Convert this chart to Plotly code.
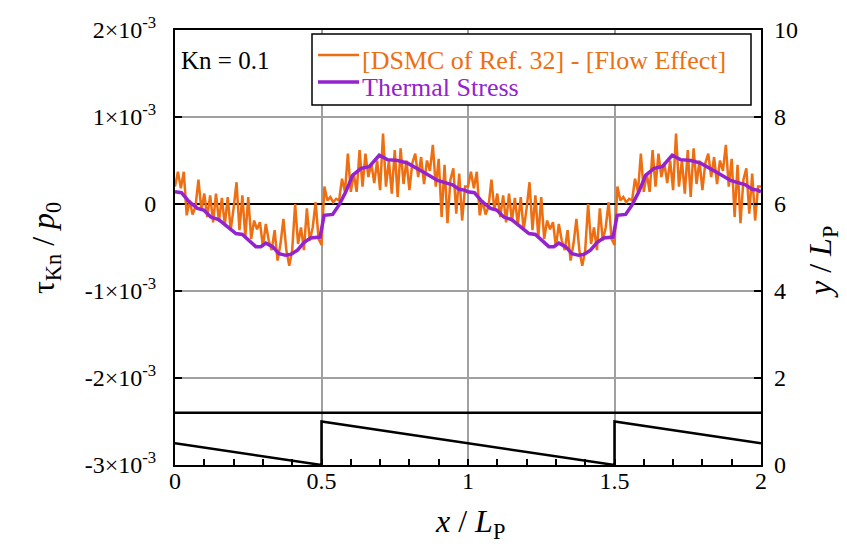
import plotly.graph_objects as go

# --- data -------------------------------------------------------------------
# Shear stress profiles are periodic in x with period L_P; one period is listed
# (x / L_P from 0 to 0.99, values in units of 1e-3 p0) and repeated.
dsmc_x_period = [i / 100 for i in range(100)]
dsmc_period = [
    0.20, 0.37, 0.18, 0.37, -0.13, 0.04, -0.12, -0.03, 0.28, -0.07,
    0.12, -0.15, 0.10, -0.21, 0.12, -0.20, 0.07, -0.24, 0.08, -0.30,
    -0.05, 0.25, -0.30, 0.10, -0.38, 0.08, -0.40, -0.19, -0.29, -0.21,
    -0.49, -0.23, -0.42, -0.53, -0.30, -0.65, -0.46, -0.17, -0.53, -0.71,
    -0.53, 0.00, -0.46, -0.27, -0.53, -0.05, -0.42, -0.27, 0.02, -0.40,
    -0.47, 0.20, 0.04, 0.08, 0.02, 0.06, 0.04, 0.29, 0.14, 0.58,
    0.14, 0.35, 0.14, 0.62, 0.20, 0.58, 0.31, 0.47, 0.24, 0.50,
    0.16, 0.81, 0.20, 0.50, 0.12, 0.62, 0.08, 0.64, 0.23, 0.50,
    0.16, 0.47, 0.58, 0.31, 0.54, 0.23, 0.50, 0.38, 0.68, 0.20,
    0.52, -0.15, 0.45, -0.22, 0.28, 0.41, -0.11, 0.35, -0.19, 0.20,
]

thermal_x_period = [
    0.000, 0.022, 0.047, 0.077, 0.098, 0.122, 0.149, 0.179, 0.208, 0.230,
    0.252, 0.276, 0.293, 0.310, 0.333, 0.355, 0.378, 0.395, 0.418, 0.441,
    0.463, 0.495, 0.509, 0.538, 0.560, 0.583, 0.606, 0.635, 0.663, 0.697,
    0.725, 0.760, 0.794, 0.828, 0.862, 0.896, 0.919, 0.947, 0.970, 0.988,
]
thermal_period = [
    0.14, 0.13, 0.03, -0.05, -0.07, -0.15, -0.18, -0.26, -0.34, -0.35,
    -0.42, -0.49, -0.49, -0.45, -0.49, -0.57, -0.59, -0.58, -0.53, -0.44,
    -0.39, -0.38, -0.13, -0.12, -0.01, 0.14, 0.33, 0.41, 0.43, 0.56,
    0.51, 0.50, 0.47, 0.41, 0.34, 0.27, 0.25, 0.22, 0.17, 0.16,
]

# Wall geometry (right axis, y / L_P)
wall_top_x = [0, 2]
wall_top_y = [1.2, 1.2]
wall_bottom_x = [0, 0.5, 0.5, 1.5, 1.5, 2]
wall_bottom_y = [0.5, 0.0, 1.0, 0.0, 1.0, 0.5]

left_tick_vals = [-3e-3, -2e-3, -1e-3, 0, 1e-3, 2e-3]
left_tick_text = ["-3×10<sup>-3</sup>", "-2×10<sup>-3</sup>", "-1×10<sup>-3</sup>",
                  "0", "1×10<sup>-3</sup>", "2×10<sup>-3</sup>"]
right_tick_vals = [0, 2, 4, 6, 8, 10]
x_tick_vals = [0, 0.5, 1, 1.5, 2]
x_tick_text = ["0", "0.5", "1", "1.5", "2"]

series_names = ["[DSMC of Ref. 32] - [Flow Effect]", "Thermal Stress"]

n_periods = 2
scale = 1e-3

dsmc_x = [p + k for k in range(n_periods) for p in dsmc_x_period] + [float(n_periods)]
dsmc_y = [v * scale for k in range(n_periods) for v in dsmc_period] + [dsmc_period[0] * scale]
thermal_x = [p + k for k in range(n_periods) for p in thermal_x_period] + [float(n_periods)]
thermal_y = [v * scale for k in range(n_periods) for v in thermal_period] + [thermal_period[0] * scale]

# --- styling ----------------------------------------------------------------
FONT = "Times New Roman, Liberation Serif, DejaVu Serif, serif"
ORANGE = "#EE6E12"
PURPLE = "#9422CE"
GRID = "#A0A0A0"

fig = go.Figure()

fig.add_trace(go.Scatter(
    x=dsmc_x, y=dsmc_y, mode="lines", name=series_names[0],
    line=dict(color=ORANGE, width=2.5), showlegend=False,
))
fig.add_trace(go.Scatter(
    x=thermal_x, y=thermal_y, mode="lines", name=series_names[1],
    line=dict(color=PURPLE, width=3.5), showlegend=False,
))
fig.add_trace(go.Scatter(
    x=wall_top_x, y=wall_top_y, mode="lines", yaxis="y2",
    line=dict(color="black", width=2.5), showlegend=False,
))
fig.add_trace(go.Scatter(
    x=wall_bottom_x, y=wall_bottom_y, mode="lines", yaxis="y2",
    line=dict(color="black", width=2.5), showlegend=False,
))

fig.update_layout(
    width=847, height=546,
    margin=dict(l=175, r=86, t=30, b=81),
    paper_bgcolor="white", plot_bgcolor="white",
    font=dict(family=FONT, size=24, color="black"),
    showlegend=False,
    xaxis=dict(
        range=[0, 2], tickvals=x_tick_vals, ticktext=x_tick_text,
        ticks="inside", ticklen=0, showgrid=True, gridcolor=GRID, gridwidth=1.5,
        showline=True, linecolor="black", linewidth=2, mirror=True,
        zeroline=False, tickfont=dict(family=FONT, size=24),
        minor=dict(dtick=0.1, ticks="inside", ticklen=6, tickcolor="black",
                   tickwidth=1.5, showgrid=False),
    ),
    yaxis=dict(
        range=[-3e-3, 2e-3], tickvals=left_tick_vals, ticktext=left_tick_text,
        ticks="inside", ticklen=7, tickwidth=1.5, tickcolor="black",
        showgrid=True, gridcolor=GRID, gridwidth=1.5,
        zeroline=True, zerolinecolor="black", zerolinewidth=2,
        showline=True, linecolor="black", linewidth=2, mirror=True,
        tickfont=dict(family=FONT, size=24), ticklabelstandoff=12,
    ),
    yaxis2=dict(
        range=[0, 10], overlaying="y", side="right", tickvals=right_tick_vals,
        ticks="inside", ticklen=7, tickwidth=1.5, tickcolor="black",
        showgrid=False, zeroline=False, showline=False,
        tickfont=dict(family=FONT, size=24), ticklabelstandoff=12,
    ),
)

# pull the x tick labels a little closer to the axis where supported
try:
    fig.update_xaxes(ticklabelstandoff=-7)
except ValueError:
    pass

# pixel positions of the plot area, used to place free text in paper units
plot_l, plot_r, plot_t, plot_b = 175, 761, 30, 465


def px_to_paper(px, py):
    return (px - plot_l) / (plot_r - plot_l), (plot_b - py) / (plot_b - plot_t)


# legend box drawn in the upper part of the plot area
bx0, by0 = px_to_paper(312, 105)
bx1, by1 = px_to_paper(751, 34)
fig.add_shape(type="rect", xref="paper", yref="paper",
              x0=bx0, y0=by0, x1=bx1, y1=by1,
              fillcolor="white", line=dict(color="black", width=1.5), layer="above")
for name, color, width, line_py, text_py in [
    (series_names[0], ORANGE, 2.5, 55, 60),
    (series_names[1], PURPLE, 3.5, 82, 87),
]:
    sx0, sy = px_to_paper(318, line_py)
    sx1, _ = px_to_paper(359, line_py)
    fig.add_shape(type="line", xref="paper", yref="paper",
                  x0=sx0, y0=sy, x1=sx1, y1=sy,
                  line=dict(color=color, width=width), layer="above")
    tx, ty = px_to_paper(360, text_py)
    fig.add_annotation(text=name, x=tx, y=ty, xref="paper", yref="paper",
                       xanchor="left", yanchor="middle", showarrow=False,
                       font=dict(family=FONT, size=26, color=color))

kx, ky = px_to_paper(179, 60)
fig.add_annotation(text="Kn = 0.1", x=kx, y=ky, xref="paper", yref="paper",
                   xanchor="left", yanchor="middle", showarrow=False,
                   font=dict(family=FONT, size=25))

lx, ly = px_to_paper(46, 248)
fig.add_annotation(text="τ<sub>Kn</sub> / <i>p</i><sub>0</sub>", x=lx, y=ly,
                   xref="paper", yref="paper", textangle=-90,
                   xanchor="center", yanchor="middle", showarrow=False,
                   font=dict(family=FONT, size=32))

rx, ry = px_to_paper(822, 262)
fig.add_annotation(text="<i>y</i> / <i>L</i><sub>P</sub>", x=rx, y=ry,
                   xref="paper", yref="paper", textangle=-90,
                   xanchor="center", yanchor="middle", showarrow=False,
                   font=dict(family=FONT, size=32))

tx, ty = px_to_paper(470, 523)
fig.add_annotation(text="<i>x</i> / <i>L</i><sub>P</sub>", x=tx, y=ty,
                   xref="paper", yref="paper",
                   xanchor="center", yanchor="middle", showarrow=False,
                   font=dict(family=FONT, size=32))

fig.write_html("out.html")
